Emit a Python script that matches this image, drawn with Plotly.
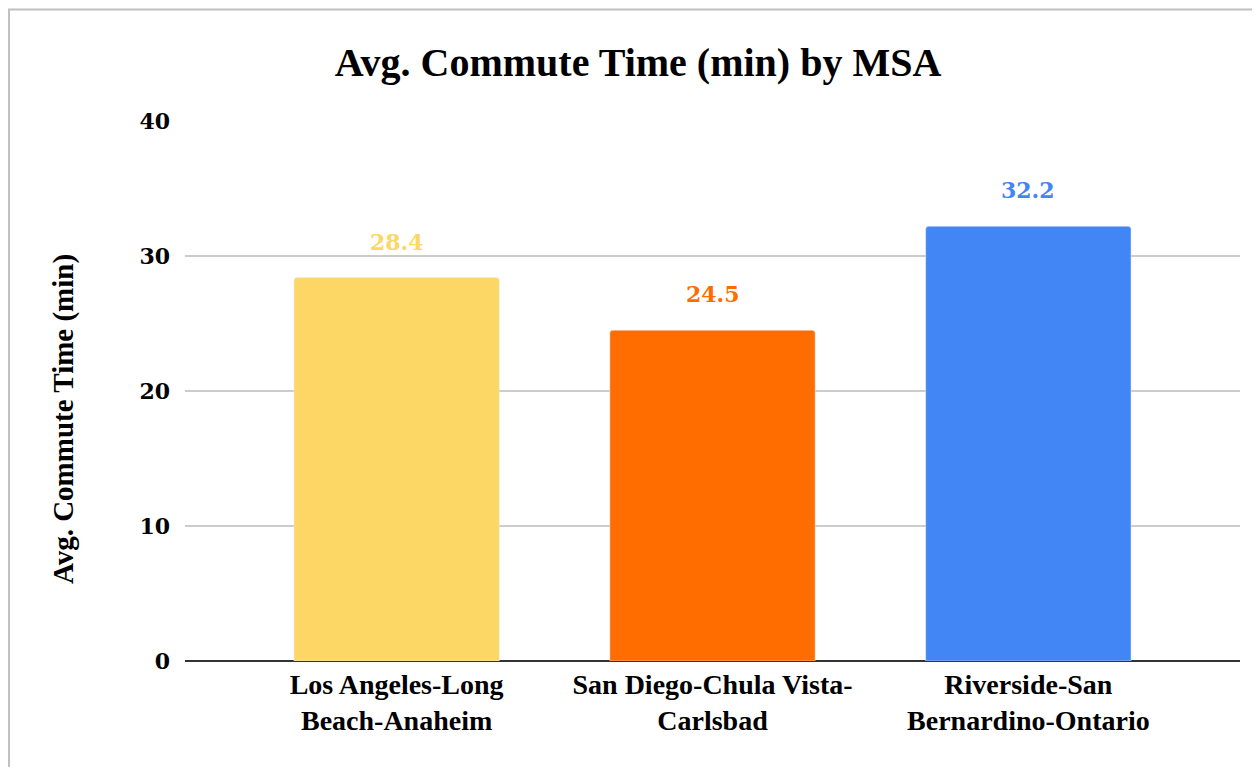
import plotly.graph_objects as go

# data
msas = ["Los Angeles-Long<br>Beach-Anaheim",
        "San Diego-Chula Vista-<br>Carlsbad",
        "Riverside-San<br>Bernardino-Ontario"]
commute = [28.4, 24.5, 32.2]
colors = ["#FDD766", "#FF6D00", "#4285F4"]
y_ticks = [0, 10, 20, 30, 40]

serif = "Georgia, 'DejaVu Serif', serif"
narrow = "'Liberation Serif', 'Times New Roman', serif"

fig = go.Figure(go.Bar(x=msas, y=commute, marker=dict(color=colors, cornerradius=3),
                       width=0.65, hoverinfo="x+y"))

# value labels sitting a little above each bar
for m, v, c in zip(msas, commute, colors):
    fig.add_annotation(x=m, y=v, text=f"{v:.1f}", showarrow=False, yshift=36,
                       font=dict(family=serif, size=22, color=c, weight="bold"))

# y axis title, sits slightly below the plot centre in the original
fig.add_annotation(text="Avg. Commute Time (min)", textangle=-90, showarrow=False,
                   xref="paper", yref="paper", x=-0.1156, y=0.448,
                   xanchor="center", yanchor="middle",
                   font=dict(family=narrow, size=29, color="black", weight="bold"))

# light frame around the chart (top and left edges visible)
fig.add_shape(type="rect", xref="paper", yref="paper",
              x0=-0.1668, x1=1.2, y0=-0.3, y1=1.2066,
              line=dict(color="#c0c0c0", width=2), layer="below")

fig.update_layout(
    width=1260, height=767,
    margin=dict(l=177, r=28, t=113, b=114),
    paper_bgcolor="white", plot_bgcolor="white",
    title=dict(text="Avg. Commute Time (min) by MSA", x=0.5, xanchor="center",
               y=0.93, yanchor="middle",
               font=dict(family=narrow, size=40, color="black", weight="bold")),
    showlegend=False,
)
fig.update_xaxes(range=[-0.67, 2.67], showgrid=False, showline=False, ticks="",
                 ticklabelstandoff=4,
                 tickfont=dict(family=narrow, size=28, color="black", weight="bold"))
fig.update_yaxes(range=[0, 40], tickvals=y_ticks, showgrid=True, gridcolor="#cccccc",
                 gridwidth=1.5, zeroline=True, zerolinecolor="#333333", zerolinewidth=2,
                 showline=False, ticks="", ticklabelstandoff=14,
                 tickfont=dict(family=serif, size=22, color="black", weight="bold"))

fig.write_html("out.html")
